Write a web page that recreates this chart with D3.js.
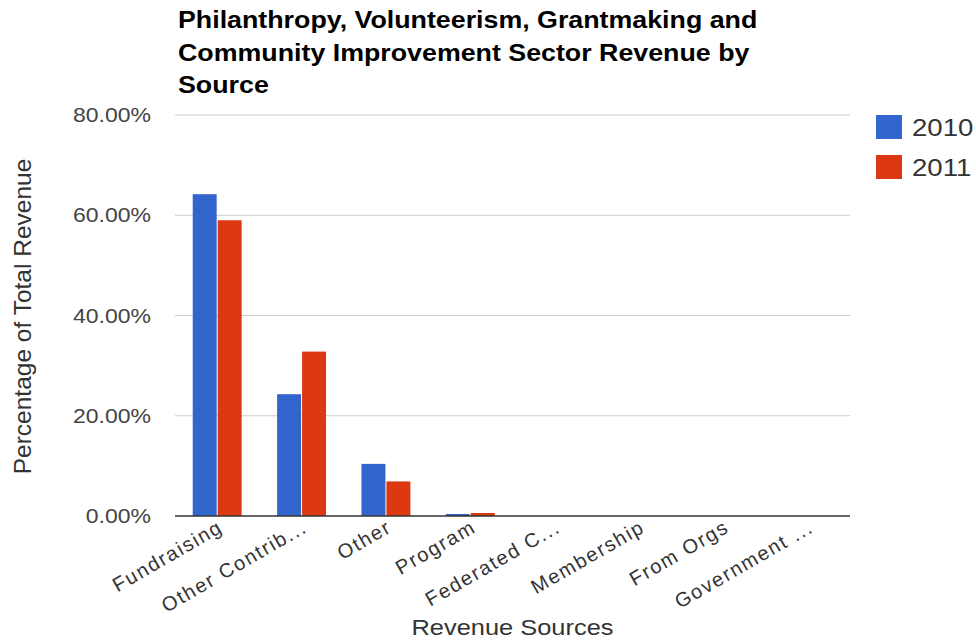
<!DOCTYPE html>
<html>
<head>
<meta charset="utf-8">
<script src="https://cdnjs.cloudflare.com/ajax/libs/d3/7.8.5/d3.min.js"></script>
<style>
  html, body { margin: 0; padding: 0; background: #fff; }
  svg { display: block; font-family: "Liberation Sans", Arial, sans-serif; }
</style>
</head>
<body>
<svg id="chart" width="976" height="640"></svg>
<script>
// Revenue share by source, in percent of total revenue
const categories = ["Fundraising", "Other Contrib...", "Other", "Program", "Federated C...", "Membership", "From Orgs", "Government ..."];
const seriesNames = ["2010", "2011"];
const values2010 = [64.2, 24.3, 10.4, 0.4, 0, 0, 0, 0];
const values2011 = [59.0, 32.8, 6.9, 0.6, 0, 0, 0, 0];
const yTicks = [0, 20, 40, 60, 80];
const colors = ["#3366cc", "#dc3912"];
const titleLines = ["Philanthropy, Volunteerism, Grantmaking and", "Community Improvement Sector Revenue by", "Source"];

const svg = d3.select("#chart");
const plot = { left: 175, right: 850, top: 115, bottom: 516 };

const x = d3.scaleBand().domain(categories).range([plot.left, plot.right]).paddingInner(0.42).paddingOuter(0.21);
const xSeries = d3.scaleBand().domain(seriesNames).range([0, x.bandwidth()]).paddingInner(0.04);
const y = d3.scaleLinear().domain([0, 80]).range([plot.bottom, plot.top]);

// Wide text rendering: glyphs are drawn slightly stretched horizontally
const placeText = (sel, px, py, sx) => sel.attr("transform", (d, i) => `translate(${px(d, i)},${py(d, i)}) scale(${sx},1)`);

// Gridlines
svg.append("g").selectAll("line").data(yTicks.filter(d => d > 0)).join("line")
  .attr("x1", plot.left).attr("x2", plot.right)
  .attr("y1", d => y(d)).attr("y2", d => y(d))
  .attr("stroke", "#cccccc").attr("stroke-width", 1);

// Y axis tick labels
const yFmt = d => d.toFixed(2) + "%";
svg.append("g").selectAll("text").data(yTicks).join("text")
  .attr("text-anchor", "end").attr("dy", "0.36em")
  .attr("font-size", 20).attr("fill", "#444")
  .text(yFmt)
  .call(placeText, () => 151, d => y(d), 1.15);

// Bars
const rows = categories.map((c, i) => ({ cat: c, vals: [values2010[i], values2011[i]] }));
const groups = svg.append("g").selectAll("g").data(rows).join("g")
  .attr("transform", d => `translate(${x(d.cat)},0)`);
groups.selectAll("rect").data(d => d.vals.map((v, j) => ({ v, s: seriesNames[j], j })))
  .join("rect")
  .attr("x", d => xSeries(d.s))
  .attr("width", xSeries.bandwidth())
  .attr("y", d => y(d.v))
  .attr("height", d => y(0) - y(d.v))
  .attr("fill", d => colors[d.j]);

// Baseline
svg.append("line").attr("x1", plot.left).attr("x2", plot.right)
  .attr("y1", y(0)).attr("y2", y(0)).attr("stroke", "#333").attr("stroke-width", 1.5);

// X axis labels, rotated
const xg = svg.append("g").attr("transform", `translate(0,${plot.bottom})`)
  .call(d3.axisBottom(x).tickSize(0).tickPadding(0));
xg.select(".domain").remove();
xg.selectAll("text")
  .attr("font-size", 20).attr("fill", "#333")
  .attr("letter-spacing", 1.7)
  .attr("font-family", "Liberation Sans, Arial, sans-serif")
  .attr("text-anchor", "end")
  .attr("dy", null).attr("y", 0)
  .attr("transform", "translate(7,15) rotate(-30)");

// Axis titles
svg.append("text").datum(0)
  .attr("text-anchor", "middle").attr("font-size", 22.5).attr("fill", "#333")
  .text("Revenue Sources")
  .call(placeText, () => (plot.left + plot.right) / 2, () => 635, 1.13);
svg.append("text").attr("transform", `translate(31,${(plot.top + plot.bottom) / 2 + 1}) rotate(-90)`)
  .attr("text-anchor", "middle").attr("font-size", 24.5).attr("fill", "#333")
  .text("Percentage of Total Revenue");

// Title
svg.append("g").selectAll("text").data(titleLines).join("text")
  .attr("font-size", 23.5).attr("font-weight", "bold").attr("fill", "#000")
  .text(d => d)
  .call(placeText, () => 178, (d, i) => 28 + i * 32.5, 1.14);

// Legend
const legend = svg.append("g").selectAll("g").data(seriesNames).join("g")
  .attr("transform", (d, i) => `translate(876,${115 + i * 40})`);
legend.append("rect").attr("width", 26).attr("height", 24).attr("fill", (d, i) => colors[i]);
legend.append("text").attr("font-size", 24).attr("fill", "#333").text(d => d)
  .call(placeText, () => 36, () => 21, 1.15);
</script>
</body>
</html>
